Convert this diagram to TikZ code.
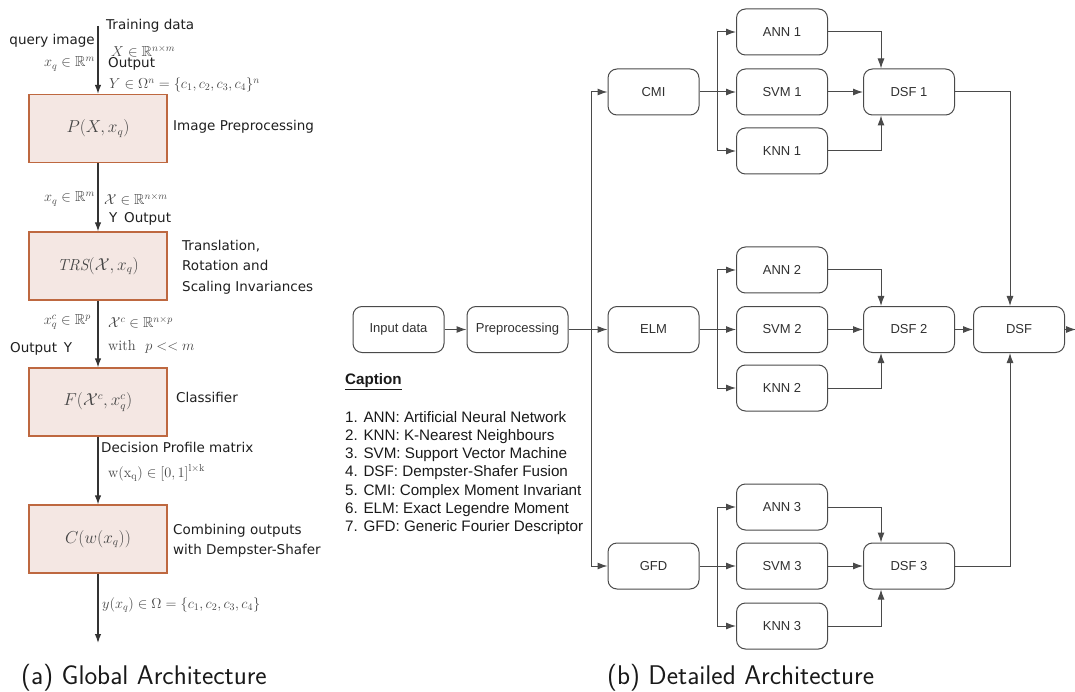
\documentclass[tikz,border=0pt]{standalone}
\usepackage{amsmath,amssymb}
\usepackage{fontspec}
\newfontfamily\dejavu{DejaVu Sans}
\newfontfamily\arialf{Liberation Sans}
\usetikzlibrary{arrows.meta}
\definecolor{lfill}{HTML}{F4E7E3}
\definecolor{ledge}{HTML}{BE6840}
\definecolor{rline}{HTML}{4A4A4A}
\definecolor{rtext}{HTML}{303030}
\definecolor{mgray}{HTML}{454545}
\tikzset{
  lbox/.style={draw=ledge, fill=lfill, line width=1.2pt, minimum width=138pt, minimum height=68pt, inner sep=0pt, font=\fontsize{16}{18}\selectfont, text=mgray},
  rbox/.style={draw=rline, rounded corners=9pt, line width=1pt, minimum width=91pt, minimum height=46pt, inner sep=0pt, font=\arialf\fontsize{13}{15}\selectfont, text=rtext},
  larr/.style={-{Latex[length=9pt,width=6.5pt]}, line width=1.2pt, draw=black!80},
  rarr/.style={-{Latex[length=10pt,width=7pt]}, line width=1pt, draw=rline},
  ltxt/.style={inner sep=0pt, font=\dejavu\fontsize{13.5}{20.5}\selectfont, text=black!88},
  mth/.style={inner sep=0pt, font=\fontsize{14.5}{17}\selectfont, text=mgray},
  rtxt/.style={inner sep=0pt, font=\arialf\fontsize{15.2}{18.2}\selectfont, text=black!90, align=left},
  subcap/.style={inner sep=0pt, font=\sffamily\fontsize{27}{32}\selectfont, text=black!90}
}
\begin{document}
\begin{tikzpicture}[x=1pt, y=-1pt]
\useasboundingbox (0,0) rectangle (1075,692);
% ---------------- left panel ----------------
\node[lbox] (P) at (98,128.5) {$P(X,x_q)$};
\node[lbox] (TRS) at (98,266) {$\mathit{TRS}(\mathcal{X},x_q)$};
\node[lbox] (F) at (98,402) {$F(\mathcal{X}^c,x_q^c)$};
\node[lbox] (C) at (98,539) {$C(w(x_q))$};
\coordinate (ltop) at (98,26);
\coordinate (lbot) at (98,643);
\draw[larr] (ltop) -- (P);
\draw[larr] (P) -- (TRS);
\draw[larr] (TRS) -- (F);
\draw[larr] (F) -- (C);
\draw[larr] (C) -- (lbot);

\node[ltxt, anchor=west] (td) at (106,26) {Training data};
\node[ltxt, anchor=east] (qi) at (95,41) {query image};
\node[mth, anchor=west] (Xr) at (111,51) {$X\in\mathbb{R}^{n\times m}$};
\node[mth, anchor=east] (xq1) at (95,64) {$x_q\in\mathbb{R}^m$};
\node[ltxt, anchor=west] (out1) at (108,64) {Output};
\node[mth, anchor=west] (Y1) at (109,85) {$Y\in\Omega^n=\{c_1,c_2,c_3,c_4\}^n$};
\node[ltxt, anchor=west] (ip) at (173,127) {Image Preprocessing};

\node[mth, anchor=east] (xq2) at (95,199) {$x_q\in\mathbb{R}^m$};
\node[mth, anchor=west] (Xc1) at (104,199) {$\mathcal{X}\in\mathbb{R}^{n\times m}$};
\node[ltxt, anchor=west] (out2) at (109,219) {Y\enspace Output};
\node[ltxt, anchor=north west, align=left] (trs) at (182,240) {Translation,\\Rotation and\\Scaling Invariances};

\node[mth, anchor=east] (xqc) at (91,322) {$x_q^c\in\mathbb{R}^p$};
\node[mth, anchor=west] (Xc2) at (108,322) {$\mathcal{X}^c\in\mathbb{R}^{n\times p}$};
\node[ltxt, anchor=west] (out3) at (10,349) {Output\enspace Y};
\node[mth, anchor=west] (wp) at (108,347) {$\mathrm{with}\ \ p<<m$};
\node[ltxt, anchor=west] (cls) at (176,397) {Classifier};

\node[ltxt, anchor=west] (dpm) at (101,447) {Decision Profile matrix};
\node[mth, anchor=west] (wx) at (108,473) {$\mathrm{w(x_q)}\in[0,1]^{\mathrm{l\times k}}$};
\node[ltxt, anchor=north west, align=left] (cmb) at (173,524) {Combining outputs\\with Dempster-Shafer};
\node[mth, anchor=west] (yx) at (102,605) {$y(x_q)\in\Omega=\{c_1,c_2,c_3,c_4\}$};

\node[subcap, anchor=west] (capa) at (21,678) {(a) Global Architecture};
\node[subcap, anchor=west] (capb) at (607,678) {(b) Detailed Architecture};

% ---------------- right panel ----------------
\node[rbox] (in) at (398.5,329.5) {Input data};
\node[rbox, minimum width=101pt] (pre) at (517.5,329.5) {Preprocessing};
\node[rbox] (cmi) at (653.5,92) {CMI};
\node[rbox] (elm) at (653.5,329.5) {ELM};
\node[rbox] (gfd) at (653.5,566) {GFD};

\node[rbox] (ann1) at (782,32) {ANN 1};
\node[rbox] (svm1) at (782,92) {SVM 1};
\node[rbox] (knn1) at (782,151) {KNN 1};
\node[rbox] (ann2) at (782,270) {ANN 2};
\node[rbox] (svm2) at (782,329.5) {SVM 2};
\node[rbox] (knn2) at (782,388) {KNN 2};
\node[rbox] (ann3) at (782,507) {ANN 3};
\node[rbox] (svm3) at (782,566) {SVM 3};
\node[rbox] (knn3) at (782,626) {KNN 3};

\node[rbox] (dsf1) at (909,92) {DSF 1};
\node[rbox] (dsf2) at (909,329.5) {DSF 2};
\node[rbox] (dsf3) at (909,566) {DSF 3};
\node[rbox] (dsf) at (1019,329.5) {DSF};

\draw[rarr] (in) -- (pre);
\draw[rarr] (pre) -- (elm);
\coordinate (trunk) at (591,329.5);
\draw[rarr] (trunk) |- (cmi);
\draw[rarr] (trunk) |- (gfd);

\coordinate (b1) at (717,92);
\coordinate (b2) at (717,329.5);
\coordinate (b3) at (717,566);
\draw[rarr] (cmi) -- (svm1);
\draw[rarr] (b1) |- (ann1);
\draw[rarr] (b1) |- (knn1);
\draw[rarr] (elm) -- (svm2);
\draw[rarr] (b2) |- (ann2);
\draw[rarr] (b2) |- (knn2);
\draw[rarr] (gfd) -- (svm3);
\draw[rarr] (b3) |- (ann3);
\draw[rarr] (b3) |- (knn3);

\draw[rarr] (ann1.east) -| ([xshift=-28pt]dsf1.north);
\draw[rarr] (svm1) -- (dsf1);
\draw[rarr] (knn1.east) -| ([xshift=-28pt]dsf1.south);
\draw[rarr] (ann2.east) -| ([xshift=-28pt]dsf2.north);
\draw[rarr] (svm2) -- (dsf2);
\draw[rarr] (knn2.east) -| ([xshift=-28pt]dsf2.south);
\draw[rarr] (ann3.east) -| ([xshift=-28pt]dsf3.north);
\draw[rarr] (svm3) -- (dsf3);
\draw[rarr] (knn3.east) -| ([xshift=-28pt]dsf3.south);

\draw[rarr] (dsf1.east) -| ([xshift=-9pt]dsf.north);
\draw[rarr] (dsf2) -- (dsf);
\draw[rarr] (dsf3.east) -| ([xshift=-9pt]dsf.south);
\coordinate (outr) at (1076,329.5);
\draw[rarr] (dsf) -- (outr);

\node[rtxt, anchor=west] (caph) at (345,382) {\textbf{\underline{Caption}}};
\node[rtxt, anchor=north west] (list) at (345,411) {1. ANN: Artificial Neural Network\\
2. KNN: K-Nearest Neighbours\\
3. SVM: Support Vector Machine\\
4. DSF: Dempster-Shafer Fusion\\
5. CMI: Complex Moment Invariant\\
6. ELM: Exact Legendre Moment\\
7. GFD: Generic Fourier Descriptor};
\end{tikzpicture}
\end{document}
